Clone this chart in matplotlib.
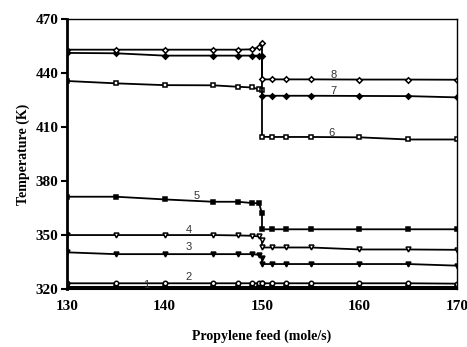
import numpy as np
import matplotlib.pyplot as plt

# propylene feed (mole/s): points before the step, the step itself, and after it
x_pre = [130, 135, 140, 145, 147.5, 149, 149.7]
x_step = [150]
x_post = [150, 151, 152.5, 155, 160, 165, 170]

# stage temperatures (K) for each profile
t8_pre = [453.0, 453.0, 453.0, 453.0, 453.0, 453.2, 454.5]
t8_step = [456.5]
t8_post = [436.5, 436.5, 436.5, 436.5, 436.4, 436.4, 436.3]

t7_pre = [451.2, 451.0, 449.7, 449.7, 449.7, 449.7, 449.7]
t7_step = [449.5]
t7_post = [427.4, 427.4, 427.4, 427.4, 427.3, 427.2, 426.5]

t6_pre = [435.6, 434.3, 433.3, 433.2, 432.4, 432.0, 431.0]
t6_step = [430.6]
t6_post = [404.6, 404.5, 404.5, 404.5, 404.3, 403.1, 403.1]

t5_pre = [371.3, 371.3, 369.8, 368.5, 368.5, 367.8, 367.6]
t5_step = [362.0]
t5_post = [353.2, 353.2, 353.2, 353.2, 353.2, 353.2, 353.2]

t4_pre = [350.0, 350.0, 350.0, 350.0, 349.8, 349.6, 349.2]
t4_step = [347.5]
t4_post = [343.1, 343.1, 343.1, 343.1, 342.0, 342.0, 341.8]

t3_pre = [340.4, 339.4, 339.4, 339.4, 339.4, 339.4, 339.0]
t3_step = [337.5]
t3_post = [333.9, 333.9, 333.9, 333.9, 333.9, 333.9, 333.0]

t2_pre = [323.2, 323.2, 323.2, 323.2, 323.2, 323.2, 323.2]
t2_step = [323.2]
t2_post = [323.2, 323.2, 323.2, 323.2, 323.2, 323.2, 323.0]

t1_pre = [320.9, 320.9, 320.9, 320.9, 320.9, 320.9, 320.9]
t1_step = [320.9]
t1_post = [320.9, 320.9, 320.9, 320.9, 320.9, 320.9, 320.9]

labels = ['1', '2', '3', '4', '5', '6', '7', '8']
label_x = [138.1, 142.5, 142.5, 142.5, 143.3, 157.1, 157.3, 157.3]
label_y = [322.0, 326.5, 343.2, 352.8, 371.7, 406.5, 430.0, 439.0]

x_all = x_pre + x_step + x_post
profiles = [
    (t1_pre + t1_step + t1_post, 's', 'k', 2.2, 2.5),
    (t2_pre + t2_step + t2_post, 'o', 'white', 1.3, 3.2),
    (t3_pre + t3_step + t3_post, 'v', 'k', 1.3, 3.5),
    (t4_pre + t4_step + t4_post, 'v', 'white', 1.3, 3.5),
    (t5_pre + t5_step + t5_post, 's', 'k', 1.3, 3.2),
    (t6_pre + t6_step + t6_post, 's', 'white', 1.3, 3.2),
    (t7_pre + t7_step + t7_post, 'D', 'k', 1.3, 2.8),
    (t8_pre + t8_step + t8_post, 'D', 'white', 1.3, 2.8),
]

fig = plt.figure(figsize=(4.67, 3.47), dpi=100)
ax = fig.add_axes([0.1435, 0.167, 0.835, 0.778])

for temps, mk, fc, lw, ms in profiles:
    ax.plot(x_all, temps, color='k', lw=lw, marker=mk, markersize=ms,
            markerfacecolor=fc, markeredgecolor='k', markeredgewidth=1.1)

for lab, lx, ly in zip(labels, label_x, label_y):
    ax.text(lx, ly, lab, fontsize=8, family='Liberation Sans',
            ha='center', va='center', color='#333333')

ax.set_xlim(130, 170)
ax.set_ylim(320, 470)
ax.set_xticks([130, 140, 150, 160, 170])
ax.set_yticks([320, 350, 380, 410, 440, 470])
ax.tick_params(axis='x', length=0, pad=8)
ax.tick_params(axis='y', length=4, width=1.5, direction='out', pad=2)
for lab in ax.get_xticklabels() + ax.get_yticklabels():
    lab.set_family('Liberation Serif')
    lab.set_fontweight('bold')
    lab.set_fontsize(11)

ax.spines['left'].set_linewidth(2)
ax.spines['bottom'].set_linewidth(1.5)
ax.spines['top'].set_linewidth(1)
ax.spines['right'].set_linewidth(1)

ax.set_xlabel('Propylene feed (mole/s)', family='Liberation Serif',
              fontweight='bold', fontsize=10, labelpad=12)
ax.set_ylabel('Temperature (K)', family='Liberation Serif',
              fontweight='bold', fontsize=10, labelpad=4)

fig.savefig('out.png', dpi=100)
